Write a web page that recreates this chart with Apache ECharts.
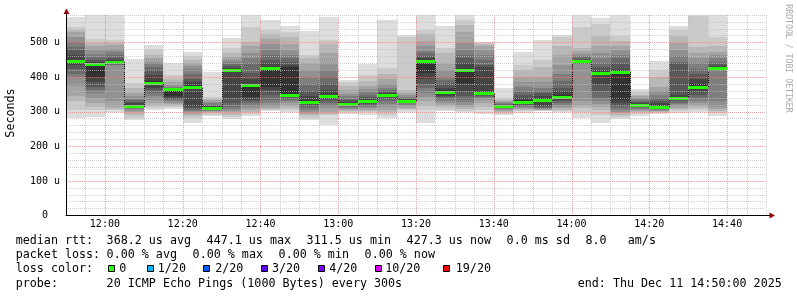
<!DOCTYPE html>
<html><head><meta charset="utf-8">
<script src="https://cdn.jsdelivr.net/npm/echarts@6/dist/echarts.min.js"></script>
<style>html,body{margin:0;padding:0;background:#fff}#c{width:797px;height:297px}</style>
</head><body><div id="c"></div>
<script>
// ---- data ----
const times = ['11:50','11:55','12:00','12:05','12:10','12:15','12:20','12:25','12:30','12:35','12:40','12:45',
  '12:50','12:55','13:00','13:05','13:10','13:15','13:20','13:25','13:30','13:35','13:40','13:45',
  '13:50','13:55','14:00','14:05','14:10','14:15','14:20','14:25','14:30','14:35'];
const stepMinutes = 5;
const majorMinutes = 20;
const axisStart = '11:50', axisEnd = '14:50';
const medians = [447.1,439,443,318,382,366,372,311.5,420,378,428,350,329,345,323,330,348,332,446,358,421,355,316,329,334,342,446.5,411,416,321,313,339,373,427.3];
const losses = [0,0,0,0,0,0,0,0,0,0,0,0,0,0,0,0,0,0,0,0,0,0,0,0,0,0,0,0,0,0,0,0,0,0];
// 20 sorted ping RTTs (microseconds) per 5-minute step
const pings = [
 [281,305,330,345,375,400,410,425,436,445,450,465,478,488,503,516,530,538,546,573],
 [286,305,315,325,340,355,362,371,385,402,439,444,450,458,468,478,490,500,510,581],
 [300,304,308,314,330,434,436,438,440,443,445,450,455,463,473,483,493,500,508,581],
 [276,282,290,298,303,307,310,313,315,318,320,324,328,333,338,345,355,370,384,452],
 [305,312,318,325,335,345,355,362,370,382,390,405,420,430,440,445,455,465,480,493],
 [308,313,318,322,326,330,333,336,340,345,366,367,368,370,373,378,385,395,405,442],
 [268,281,288,294,298,302,306,310,315,372,378,385,395,410,425,432,440,450,460,474],
 [287,292,296,299,301,303,305,307,309,311.5,313,316,318,320,324,328,333,338,344,416],
 [279,286,292,298,303,308,315,325,340,420,423,427,432,437,443,450,458,470,485,513],
 [287,294,300,305,312,318,325,330,335,342,378,395,411,440,455,470,490,503,546,580],
 [302,305,308,312,318,324,335,350,362,373,428,440,450,465,480,495,510,525,537,565],
 [300,306,312,318,325,330,335,340,345,350,430,436,445,455,465,480,495,515,530,548],
 [276,283,290,295,300,305,310,316,322,329,335,345,360,380,400,420,440,455,464,535],
 [262,290,295,300,310,318,325,332,338,345,350,363,380,400,420,440,470,495,508,573],
 [294,298,302,305,308,311,314,317,320,323,326,329,333,338,345,352,362,375,385,393],
 [291,298,302,306,310,314,318,322,326,330,334,338,343,350,357,365,375,390,405,437],
 [281,290,298,306,315,322,330,336,342,348,350,353,357,362,370,380,395,410,427,565],
 [300,304,308,312,316,320,324,327,330,332,334,336,338,340,343,348,355,363,516,523],
 [268,305,318,330,343,355,368,380,395,412,446,455,462,469,475,490,505,525,537,580],
 [302,306,314,320,326,332,337,342,347,358,362,370,380,392,400,420,440,470,485,548],
 [298,303,308,314,320,328,335,345,360,383,421,440,455,465,479,500,530,551,565,580],
 [294,305,315,325,335,340,344,347,350,355,358,430,435,450,465,479,490,495,499,503],
 [291,295,299,302,305,308,310,312,314,316,317,318,320,322,324,327,330,335,340,368],
 [297,301,305,308,311,314,317,320,323,329,333,340,348,360,373,385,400,420,435,474],
 [302,303,304,306,308,310,312,315,318,334,338,345,353,360,370,385,402,430,450,509],
 [298,302,306,310,315,320,325,330,335,342,350,360,368,390,410,435,465,490,515,522],
 [281,300,310,318,330,437,439,441,443,445,446.5,450,454,458,462,468,475,484,546,581],
 [268,290,305,315,322,330,340,360,380,405,411,420,430,440,455,469,490,520,555,570],
 [279,285,290,296,300,305,310,318,325,334,416,425,440,455,465,478,490,505,520,581],
 [289,294,298,302,306,309,312,315,318,321,323,325,328,332,336,340,345,350,358,366],
 [294,297,299,301,303,305,307,309,311,313,318,325,332,340,350,360,373,400,421,446],
 [296,302,307,312,317,322,326,330,334,339,343,350,440,445,460,480,500,520,537,548],
 [300,306,312,318,325,332,340,350,360,373,380,395,410,425,440,455,470,488,578,581],
 [287,296,303,308,315,330,420,423,425,427.3,429,433,438,445,455,465,474,490,517,581]
];
const xTickLabels = ['12:00','12:20','12:40','13:00','13:20','13:40','14:00','14:20','14:40'];
const yTickLabels = ['0  ','100 u','200 u','300 u','400 u','500 u'];
const yMax = 580;
const lossLabels = ['0','1/20','2/20','3/20','4/20','10/20','19/20'];
const lossColors = ['#26ff00','#00b8ff','#0059ff','#5e00ff','#7e00ff','#dd00ff','#ff0000'];
const smokeShades = ['#dddddd','#cacaca','#b7b7b7','#a4a4a4','#919191','#7e7e7e','#6b6b6b','#585858','#454545','#323232'];
const rttTitle = 'median rtt:';
const rttStats = ['368.2 us avg','447.1 us max','311.5 us min','427.3 us now','0.0 ms sd','8.0','am/s'];
const lossTitle = 'packet loss:';
const lossStats = ['0.00 % avg','0.00 % max','0.00 % min','0.00 % now'];
const colorTitle = 'loss color:';
const probeTitle = 'probe:';
const probeText = '20 ICMP Echo Pings (1000 Bytes) every 300s';
const endText = 'end: Thu Dec 11 14:50:00 2025';
const yName = 'Seconds';
const sideText = 'RRDTOOL / TOBI OETIKER';

// ---- helpers ----
const toMin = s => { const a = s.split(':').map(Number); return a[0]*60 + a[1]; };
const fmt = v => { const h = Math.floor(v/60), m = v%60; return String(h).padStart(2,'0') + ':' + String(m).padStart(2,'0'); };
const MONO = '"DejaVu Sans Mono", monospace';
const LF = '11.7px ' + MONO;
const xMin = toMin(axisStart), xMax = toMin(axisEnd);
const firstMajor = toMin(xTickLabels[0]);

const chart = echarts.init(document.getElementById('c'), null, {renderer:'canvas'});

const colData = times.map((t,i) => [toMin(t), medians[i], i]);

function txt(x, y, s, extra) {
  return Object.assign({type:'text', x:x, y:y, z:20, silent:true,
    style:{text:s, font:LF, fill:'#000', align:'left', verticalAlign:'middle'}}, extra||{});
}
const legendEls = [];
const L1 = 241, L2 = 255.2, L3 = 269.4, L4 = 283.6;
legendEls.push(txt(15.7, L1, rttTitle));
[106.6, 206.6, 306.6, 406.6, 506.6, 585.4, 627.8].forEach((x,i)=>legendEls.push(txt(x, L1, rttStats[i])));
legendEls.push(txt(15.7, L2, lossTitle));
[106.6, 192.6, 278.6, 364.6].forEach((x,i)=>legendEls.push(txt(x, L2, lossStats[i])));
legendEls.push(txt(15.7, L3, colorTitle));
const boxX = [108, 147, 203, 261, 318, 375, 443];
const labX = [119.2, 157.8, 215.2, 271.9, 329.2, 385.2, 455.8];
boxX.forEach((x,i)=>{
  legendEls.push({type:'rect', z:20, silent:true, shape:{x:x+0.5, y:265.5, width:6, height:6},
    style:{fill:lossColors[i], stroke:'#000', lineWidth:1}});
  legendEls.push(txt(labX[i], L3, lossLabels[i]));
});
legendEls.push(txt(15.7, L4, probeTitle));
legendEls.push(txt(106.6, L4, probeText));
legendEls.push(txt(577.7, L4, endText));
legendEls.push(txt(11, 113, yName, {rotation: Math.PI/2, style:{text:yName, font:LF, fill:'#000', align:'center', verticalAlign:'middle'}}));
legendEls.push(txt(788, 58.5, sideText, {rotation: -Math.PI/2, style:{text:sideText, font:'8.2px ' + MONO, fill:'#aaaaaa', align:'center', verticalAlign:'middle'}}));
// axis arrows
const ARROW = '#8b0000';
legendEls.push({type:'rect', z:20, silent:true, shape:{x:66, y:11, width:1, height:4}, style:{fill:'#000'}});
legendEls.push({type:'polygon', z:21, silent:true, shape:{points:[[66.5,8.5],[63.5,14],[69.5,14]]}, style:{fill:ARROW}});
legendEls.push({type:'rect', z:20, silent:true, shape:{x:766, y:215, width:4, height:1}, style:{fill:'#000'}});
legendEls.push({type:'polygon', z:21, silent:true, shape:{points:[[775,215.5],[769.5,212.5],[769.5,218.5]]}, style:{fill:ARROW}});

const GRIDC = 'rgba(191,191,191,0.75)';
const MGRIDC = 'rgba(230,128,128,0.75)';

chart.setOption({
  backgroundColor: '#ffffff',
  animation: false,
  grid: {left:66, right:31, top:15, bottom:81.5, containLabel:false, outerBoundsMode:'none'},
  xAxis: {
    type:'value', min: xMin, max: xMax, interval: stepMinutes, z: 10,
    axisLine:{show:true, onZero:false, lineStyle:{color:'#000', width:1}},
    axisTick:{show:false},
    splitLine:{show:false},
    axisLabel:{show:true, margin:4, color:'#000', fontFamily:'DejaVu Sans Mono', fontSize:10,
      showMinLabel:true, showMaxLabel:true, hideOverlap:false,
      formatter: v => { const s = fmt(v); return xTickLabels.indexOf(s) >= 0 ? s : ''; }}
  },
  yAxis: {
    type:'value', min:0, max:yMax, interval:20, z: 10,
    axisLine:{show:true, onZero:false, lineStyle:{color:'#000', width:1}},
    axisTick:{show:false},
    splitLine:{show:true, showMinLine:false, showMaxLine:true,
      lineStyle:{color:[GRIDC, GRIDC, GRIDC, GRIDC, MGRIDC], width:1, type:[1,1]}},
    axisLabel:{show:true, margin:6, color:'#000', fontFamily:'DejaVu Sans Mono', fontSize:10,
      formatter: v => (v % 100 === 0 && v/100 < yTickLabels.length) ? yTickLabels[v/100] : ''}
  },
  series: [
    {
      type:'custom', name:'smoke', z:2, clip:true, silent:true,
      data: colData, encode:{x:0, y:1},
      renderItem: function(params, api) {
        const t = api.value(0), i = api.value(2);
        const p = pings[i];
        const xa = Math.round(api.coord([t, 0])[0]);
        const xb = Math.round(api.coord([t + stepMinutes, 0])[0]);
        const ch = [];
        for (let k = 0; k < 10; k++) {
          const yl = Math.round(api.coord([t, p[k]])[1]);
          const yh = Math.round(api.coord([t, p[19-k]])[1]);
          ch.push({type:'rect', shape:{x:xa, y:yh, width:xb-xa, height:Math.max(yl-yh, 0)},
            style:{fill:smokeShades[k]}});
        }
        return {type:'group', children:ch};
      }
    },
    {
      type:'custom', name:'median', z:4, clip:true, silent:true,
      data: colData, encode:{x:0, y:1},
      renderItem: function(params, api) {
        const t = api.value(0), m = api.value(1), i = api.value(2);
        const xa = Math.round(api.coord([t, 0])[0]);
        const xb = Math.round(api.coord([t + stepMinutes, 0])[0]);
        const yc = Math.round(api.coord([t, m])[1]);
        return {type:'rect', shape:{x:xa, y:yc-1, width:xb-xa, height:3},
          style:{fill:lossColors[losses[i]]}};
      }
    }
  ],
  graphic: {elements: legendEls}
});

// dotted vertical time grid (over the smoke) and median step connectors, placed with the chart's own scales
const px = (t, v) => chart.convertToPixel({xAxisIndex:0, yAxisIndex:0}, [t, v]);
const overEls = [];
for (let t = xMin + stepMinutes; t <= xMax; t += stepMinutes) {
  const p0 = px(t, 0), p1 = px(t, yMax);
  const x = Math.round(p0[0]);
  const major = ((t - firstMajor) % majorMinutes) === 0;
  const y0 = Math.round(p0[1]), y1 = Math.round(p1[1]);
  for (let y = y0 - 1; y >= y1; y -= 2) {
    overEls.push({type:'rect', z:9, silent:true, shape:{x:x, y:y, width:1, height:1},
      style:{fill: major ? MGRIDC : GRIDC}});
  }
}
for (let i = 1; i < times.length; i++) {
  const t = toMin(times[i]);
  const a = px(t, medians[i-1]), b = px(t, medians[i]);
  const x = Math.round(a[0]);
  const ya = Math.round(a[1]), yb = Math.round(b[1]);
  overEls.push({type:'rect', z:3, silent:true, shape:{x:x, y:Math.min(ya,yb), width:1, height:Math.abs(ya-yb)+1},
    style:{fill:'#111111'}});
}
chart.setOption({graphic: {elements: legendEls.concat(overEls)}});
</script></body></html>
